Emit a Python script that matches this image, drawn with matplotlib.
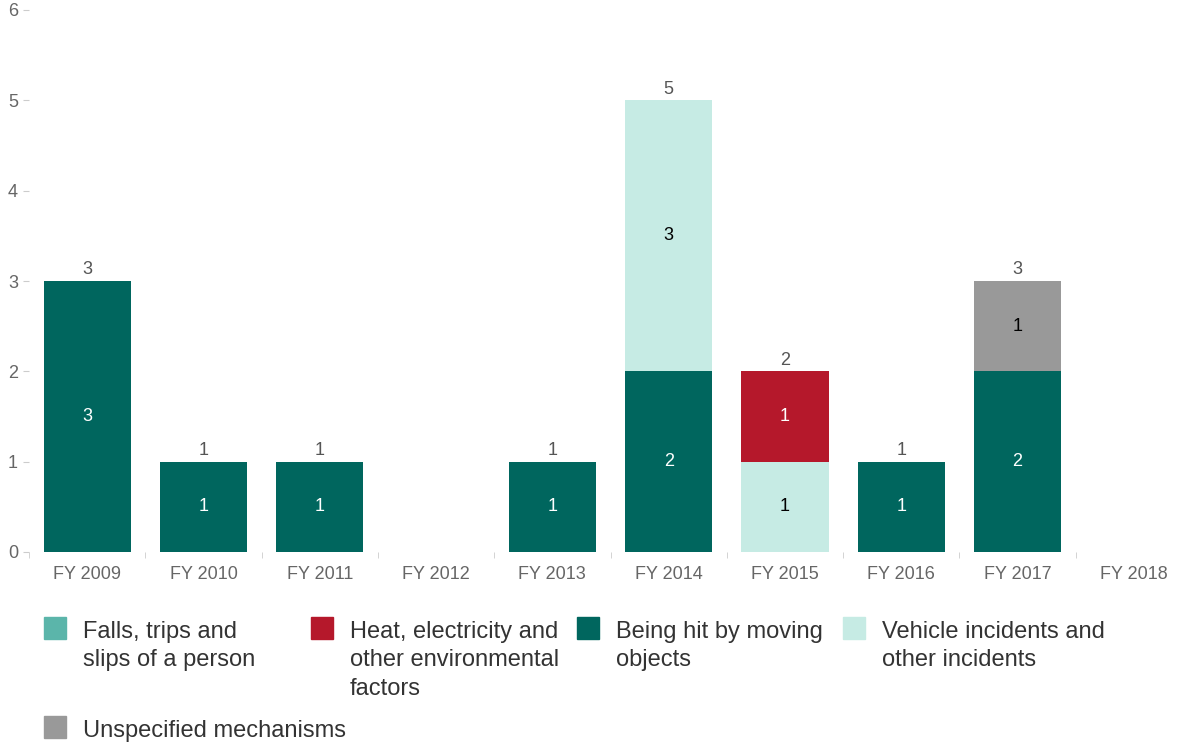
import matplotlib.pyplot as plt
from matplotlib.patches import Rectangle
import numpy as np

plt.rcParams['font.family'] = ['Liberation Sans', 'DejaVu Sans']

years = ["FY 2009", "FY 2010", "FY 2011", "FY 2012", "FY 2013",
         "FY 2014", "FY 2015", "FY 2016", "FY 2017", "FY 2018"]

falls = [0, 0, 0, 0, 0, 0, 0, 0, 0, 0]
heat = [0, 0, 0, 0, 0, 0, 1, 0, 0, 0]
hit = [3, 1, 1, 0, 1, 2, 0, 1, 2, 0]
vehicle = [0, 0, 0, 0, 0, 3, 1, 0, 0, 0]
unspecified = [0, 0, 0, 0, 0, 0, 0, 0, 1, 0]

legend_labels = ["Falls, trips and\nslips of a person",
                 "Heat, electricity and\nother environmental\nfactors",
                 "Being hit by moving\nobjects",
                 "Vehicle incidents and\nother incidents",
                 "Unspecified mechanisms"]
legend_colors = ["#5BB5AA", "#B5182B", "#00665E", "#C6EBE4", "#999999"]

# stacking order bottom -> top, with inner label colour
stack = [
    (hit, "#00665E", "white"),
    (vehicle, "#C6EBE4", "black"),
    (heat, "#B5182B", "white"),
    (unspecified, "#999999", "black"),
    (falls, "#5BB5AA", "white"),
]

fig = plt.figure(figsize=(11.92, 7.47), dpi=100)
ax = fig.add_axes([29 / 1192, 1 - 552 / 747, 1 - 29 / 1192, (552 - 10) / 747])

x = np.arange(len(years))
bottom = np.zeros(len(years))
for vals, col, tcol in stack:
    vals = np.array(vals, dtype=float)
    ax.bar(x, vals, bottom=bottom, width=0.75, color=col, zorder=2)
    for i, v in enumerate(vals):
        if v > 0:
            ax.text(x[i], bottom[i] + v / 2, f"{int(v)}", ha="center", va="center",
                    color=tcol, fontsize=13)
    bottom += vals

for i, t in enumerate(bottom):
    if t > 0:
        ax.text(x[i], t + 0.03, f"{int(t)}", ha="center", va="bottom",
                color="#555555", fontsize=13)

ax.set_xlim(-0.5, len(years) - 0.5)
ax.set_ylim(0, 6)
ax.set_yticks(range(7))
ax.set_xticks(x)
ax.set_xticklabels(years)
ax.set_xticks(np.arange(-0.5, len(years), 1), minor=True)
ax.tick_params(axis="x", which="major", length=0, pad=10, labelsize=13, labelcolor="#666666")
ax.tick_params(axis="x", which="minor", length=4, color="#cccccc", direction="out")
ax.tick_params(axis="y", length=4, color="#cccccc", pad=4, labelsize=13, labelcolor="#666666")
for s in ax.spines.values():
    s.set_visible(False)

# legend drawn by hand
col_x = [44, 311, 577, 843]
for k, (lab, col) in enumerate(zip(legend_labels, legend_colors)):
    row, c = divmod(k, 4)
    px = col_x[c]
    py = 617 + row * 99
    fig.patches.append(Rectangle((px / 1192, 1 - (py + 22) / 747), 22 / 1192, 22 / 747,
                                 transform=fig.transFigure, color=col))
    fig.text((px + 39) / 1192, 1 - (py + 4) / 747, lab, ha="left", va="top",
             fontsize=17, color="#333333", linespacing=1.38)

fig.savefig("out.png", dpi=100)
